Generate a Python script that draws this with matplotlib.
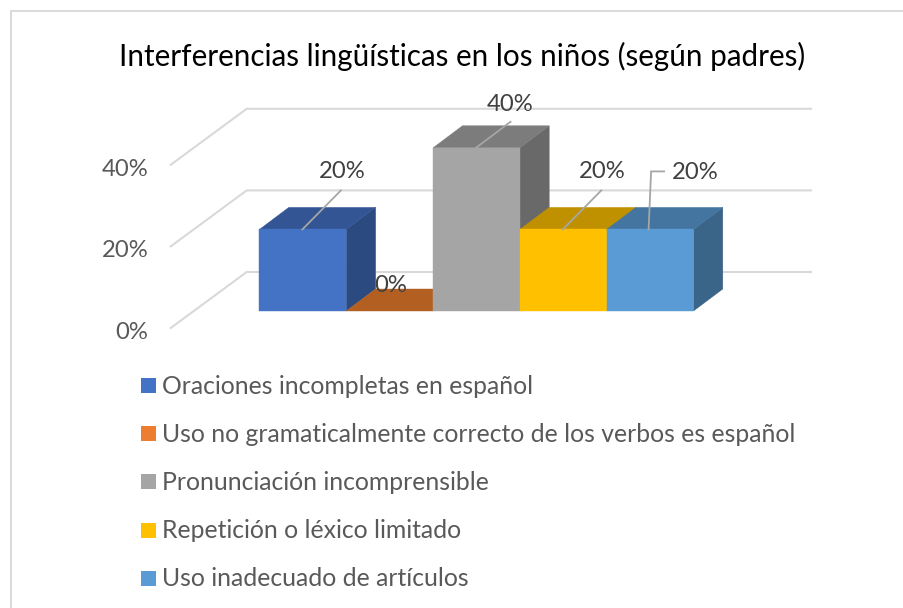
import matplotlib
matplotlib.use("Agg")
import matplotlib.pyplot as plt
from matplotlib.patches import Polygon, Rectangle
from matplotlib.lines import Line2D

categories = [
    "Oraciones incompletas en español",
    "Uso no gramaticalmente correcto de los verbos es español",
    "Pronunciación incomprensible",
    "Repetición o léxico limitado",
    "Uso inadecuado de artículos",
]
values = [20, 0, 40, 20, 20]
value_labels = ["20%", "0%", "40%", "20%", "20%"]
y_ticks = [0, 20, 40]
y_tick_labels = ["0%", "20%", "40%"]
title = "Interferencias lingüísticas en los niños (según padres)"

front_colors = ["#4472C4", "#ED7D31", "#A5A5A5", "#FFC000", "#5B9BD5"]
top_colors = ["#335593", "#B45F22", "#7C7C7C", "#BF9000", "#4475A0"]
side_colors = ["#2A4A80", "#9A5020", "#696969", "#A67C00", "#3A6488"]

W, H = 904, 608
PX_PER_CAT = 86.8
PX_PER_PCT = 81.6 / 20
X0 = 259.5      # px of the left edge of the first bar
Y0 = 311.0      # px of the 0% level on the bars' front plane

plt.rcParams["font.family"] = ["Lato", "DejaVu Sans"]
fig = plt.figure(figsize=(W / 100, H / 100), dpi=100, facecolor="white")
ax = fig.add_axes([0, 0, 1, 1])
ax.set_xlim(-0.5 - X0 / PX_PER_CAT, -0.5 + (W - X0) / PX_PER_CAT)
ax.set_ylim((Y0 - H) / PX_PER_PCT, Y0 / PX_PER_PCT)
ax.axis("off")

# horizontal/vertical sizes in data units
dx = 29.3 / PX_PER_CAT      # bar depth
dy = 22.0 / PX_PER_PCT
wall_dx = 76.0 / PX_PER_CAT  # floor depth
wall_dy = 56.0 / PX_PER_PCT
wall_base_x = -0.5 - (259.5 - 246.7) / PX_PER_CAT
wall_base_y = (311 - 272) / PX_PER_PCT
wall_right = -0.5 + (811 - 259.5) / PX_PER_CAT

# chart frame (top and left edges only are visible)
frame = "#D9D9D9"
fig.add_artist(Line2D([10.5 / W, 10.5 / W, 1], [0, 1 - 10.5 / H, 1 - 10.5 / H],
                      color=frame, lw=1.4))

# gridlines on side wall and back wall
for t, tl in zip(y_ticks, y_tick_labels):
    ax.plot([wall_base_x - wall_dx, wall_base_x, wall_right],
            [wall_base_y + t - wall_dy, wall_base_y + t, wall_base_y + t],
            color="#D9D9D9", lw=1.5, solid_joinstyle="miter", zorder=1)
    ax.text(wall_base_x - wall_dx - 0.26, wall_base_y + t - wall_dy - 1.05,
            tl, ha="right", va="center", fontsize=17.2, color="#595959")

# bars
for i, (v, f, tc, s) in enumerate(zip(values, front_colors, top_colors, side_colors)):
    l, r = i - 0.5, i + 0.5
    z = 2 + i * 0.1
    if v > 0:
        ax.add_patch(Polygon([(r, 0), (r + dx, dy), (r + dx, v + dy), (r, v)],
                             fc=s, ec=s, lw=0.3, zorder=z))
    ax.add_patch(Polygon([(l, v), (l + dx, v + dy), (r + dx, v + dy), (r, v)],
                         fc=tc, ec=tc, lw=0.3, zorder=z))
    if v > 0:
        ax.add_patch(Rectangle((l, 0), 1, v, fc=f, ec=f, lw=0.3, zorder=z))

# data label leaders and labels (offsets in pixels from the bar's top centre)
leader = "#A6A6A6"
label_z = 5
def off(i, v, ox, oy):
    return i + ox / PX_PER_CAT, v - oy / PX_PER_PCT

for i, (v, lab) in enumerate(zip(values, value_labels)):
    if v == 0:
        x, y = off(i, v, 0.5, -25)
        ax.text(x, y, lab, ha="center", va="center", fontsize=17.2, color="#404040", zorder=label_z)
        continue
    if i == 4:
        pts = [off(i, v, -1.5, 0), off(i, v, 1, -58), off(i, v, 14, -58)]
        lx, ly = off(i, v, 45, -57)
    else:
        pts = [off(i, v, -0.5, 0), off(i, v, 38, -39)]
        lx, ly = off(i, v, 39, -57.5)
    if i == 2:
        pts = [off(i, v, -0.5, 0), off(i, v, 34, -26)]
        lx, ly = off(i, v, 34, -43.5)
    ax.plot(*zip(*pts), color=leader, lw=1.3, zorder=label_z - 1, solid_joinstyle="miter")
    ax.text(lx, ly, lab, ha="center", va="center", fontsize=17.2, color="#404040", zorder=label_z)

# title
fig.text(462.5 / W, 1 - 56 / H, title, ha="center", va="center", fontsize=21.35, color="#000000")

# legend
for k, (name, col) in enumerate(zip(categories, front_colors)):
    top = 378 + k * 48.2
    fig.add_artist(Rectangle((141 / W, 1 - (top + 15) / H), 15 / W, 15 / H,
                             transform=fig.transFigure, fc=col, ec="none"))
    fig.text(162 / W, 1 - (top + 8) / H, name, ha="left", va="center",
             fontsize=17.85, color="#595959")

fig.savefig("out.png", dpi=100, facecolor="white")
